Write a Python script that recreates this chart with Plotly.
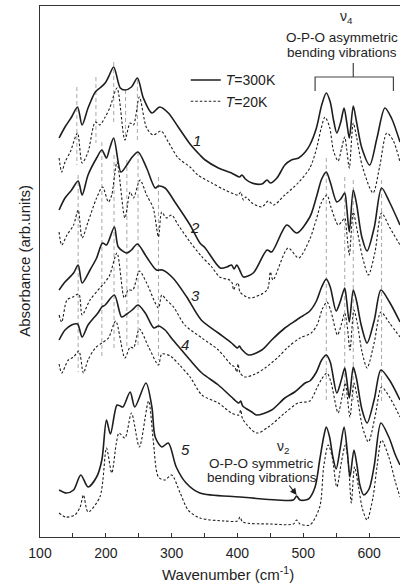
import plotly.graph_objects as go

# ---------------- data (wavenumber cm-1, absorbance arb. units, spectra offset) ----------------
c1s_wn = [129,138,148,157,164,173,184,191,199,204,212,222,229,239,248,257,270,282,295,310,328,343,351,371,391,403,407,412,422,437,445,450,460,472,482,493,503,510,520,528,535,541,546,551,557,562,566,570,576,581,589,601,612,624,634,647]
c1s_ab = [399,410,420,430,412,429,445,449,454,460,470,449,447,450,459,439,424,430,424,410,393,382,377,369,364,360,362,358,354,353,357,354,359,372,377,379,385,392,409,432,444,435,417,404,415,429,415,399,431,415,389,372,399,429,419,395]

c1d_wn = [129,133,138,146,157,164,173,184,191,199,206,217,229,237,242,251,262,272,284,295,310,328,340,361,381,401,405,409,413,422,437,447,455,472,492,510,520,527,533,540,546,553,558,563,566,570,576,581,590,606,616,627,637,647]
c1d_ab = [379,365,375,385,404,374,385,415,412,420,429,449,397,414,412,440,409,402,406,395,379,370,362,354,347,342,345,337,340,334,330,336,332,342,354,369,388,408,420,410,386,376,388,400,388,369,414,400,370,344,370,404,396,375]

c2s_wn = [129,138,148,158,164,173,186,194,201,206,212,223,232,239,249,262,275,280,290,305,328,343,351,374,384,391,395,399,404,409,424,445,452,475,490,510,520,528,535,541,551,557,563,566,570,576,581,589,597,608,619,631,647]
c2s_ab = [327,339,347,356,342,362,379,387,379,389,399,365,372,379,385,369,349,351,349,335,312,294,289,269,270,272,268,272,266,260,264,287,285,312,304,320,340,358,365,355,335,338,344,330,305,347,333,300,286,310,349,335,312]

c2d_wn = [129,133,141,151,158,164,173,186,195,204,209,217,229,237,242,252,262,272,280,285,292,300,310,328,345,361,373,388,392,394,397,401,404,419,445,450,454,477,493,510,520,528,536,542,553,558,563,566,570,576,581,590,599,609,619,631,647]
c2d_ab = [305,292,302,312,327,299,315,339,350,335,342,375,319,345,339,357,342,329,300,325,319,322,312,295,281,270,260,257,254,247,251,254,245,239,247,265,257,289,279,298,318,335,342,330,312,315,319,305,282,325,310,280,262,285,324,310,292]

c3s_wn = [129,138,151,158,164,176,186,195,201,213,219,232,239,248,262,277,286,302,323,345,371,391,400,403,406,417,437,452,472,490,494,510,520,528,535,541,550,556,563,566,570,576,581,588,597,608,618,631,647]
c3s_ab = [247,255,264,272,254,267,279,294,292,310,290,284,287,293,280,267,267,259,240,217,204,194,189,191,188,182,187,197,209,217,219,226,236,250,258,250,226,235,249,236,215,247,236,212,194,217,247,235,215]

c3d_wn = [129,133,141,150,159,164,176,191,199,206,217,228,234,241,251,262,280,285,292,303,320,346,371,391,396,399,401,404,411,427,442,462,477,495,512,521,529,536,542,552,558,563,567,571,577,582,589,597,608,618,631,647]
c3d_ab = [222,215,237,240,243,222,237,249,255,262,284,239,247,247,266,254,229,242,237,230,212,199,187,172,170,165,173,164,160,163,169,180,190,199,204,212,228,235,226,202,213,224,210,187,227,214,186,169,195,225,214,200]

c4s_wn = [129,138,148,157,164,173,188,194,199,213,224,232,240,249,260,273,280,290,302,315,328,346,371,391,402,405,408,422,429,452,472,487,503,510,520,528,535,541,551,557,563,566,570,576,581,589,597,608,618,631,647]
c4s_ab = [197,207,212,213,200,212,224,230,232,242,220,223,227,232,224,209,211,207,197,187,177,164,152,140,134,136,131,125,122,127,139,145,154,156,165,177,182,175,144,155,169,158,139,170,158,128,114,138,167,157,137]

c4d_wn = [129,133,143,151,159,166,173,184,194,204,215,229,237,242,251,265,280,285,298,312,328,346,371,391,402,405,408,429,447,472,492,510,520,528,536,542,553,559,564,567,571,577,582,590,599,609,619,631,647]
c4d_ab = [173,164,177,180,186,164,177,189,194,199,216,179,190,189,208,190,172,183,181,172,160,142,134,124,122,127,118,104,110,124,134,136,148,158,164,155,124,140,154,140,120,154,140,110,95,120,150,140,120]

c5s_wn = [129,140,151,162,173,186,194,201,207,217,222,226,237,244,261,270,275,285,295,307,322,343,404,460,485,490,495,508,518,525,531,535,540,545,550,556,562,567,571,577,582,586,592,600,608,618,630,640,647]
c5s_ab = [47,44,47,62,50,60,77,117,103,132,131,130,145,130,154,130,100,90,94,70,54,44,40,37,37,41,37,38,50,77,100,110,100,80,68,88,110,85,60,87,70,52,42,48,72,114,100,82,72]

c5d_wn = [129,139,153,161,166,173,191,201,209,216,220,229,239,251,265,272,280,290,300,313,325,343,380,400,404,408,450,485,490,495,510,525,531,538,544,551,558,564,569,573,578,584,590,597,606,612,619,630,640,647]
c5d_ab = [24,20,22,30,42,25,40,89,64,94,104,99,124,90,136,97,60,57,62,44,27,19,16,16,20,15,13,13,17,13,12,30,70,92,80,50,75,92,70,34,70,50,28,17,40,70,97,80,55,40]

# vertical guide lines (wavenumber, top, bottom)
guideA_wn = [156, 185, 212, 230, 248]
guideA_top = [450, 460, 475, 447, 457]
guideA_bot = [372, 394, 415, 397, 395]
guideB_wn = [158, 194, 212.5, 232, 249, 280]
guideB_top = [362, 395, 382, 377, 385, 360]
guideB_bot = [165, 180, 187, 190, 189, 177]
guideC_wn = [535, 563, 576, 619]
guideC_top = [379, 360, 357, 357]
guideC_bot = [137, 139, 137, 135]

# nu4 bracket
bracket_wn = [518, 576, 637]
bracket_ab = [446, 460, 474]

curve_labels = ["1", "2", "3", "4", "5"]
curve_label_wn = [338, 336, 336, 321, 321]
curve_label_ab = [397, 310, 242, 193, 88]

x_ticks = [100, 200, 300, 400, 500, 600]

FONT = "Liberation Sans, Arial, sans-serif"
BLACK = "#1e1e1e"

fig = go.Figure()

def guides(wn, top, bot):
    xs, ys = [], []
    for w, t, b in zip(wn, top, bot):
        xs += [w, w, None]
        ys += [t, b, None]
    return xs, ys

for wn, top, bot in [(guideA_wn, guideA_top, guideA_bot),
                     (guideB_wn, guideB_top, guideB_bot),
                     (guideC_wn, guideC_top, guideC_bot)]:
    gx, gy = guides(wn, top, bot)
    fig.add_trace(go.Scatter(x=gx, y=gy, mode="lines", showlegend=False, hoverinfo="skip",
                             line=dict(color="#a8a8a8", width=1, dash="4px,3px")))

spectra = [
    (c1s_wn, c1s_ab, True), (c1d_wn, c1d_ab, False),
    (c2s_wn, c2s_ab, True), (c2d_wn, c2d_ab, False),
    (c3s_wn, c3s_ab, True), (c3d_wn, c3d_ab, False),
    (c4s_wn, c4s_ab, True), (c4d_wn, c4d_ab, False),
    (c5s_wn, c5s_ab, True), (c5d_wn, c5d_ab, False),
]
for i, (wn, ab, solid) in enumerate(spectra):
    fig.add_trace(go.Scatter(
        x=wn, y=ab, mode="lines",
        name="<i>T</i>=300K" if solid else "<i>T</i>=20K",
        showlegend=(i < 2), legendgroup="s" if solid else "d",
        line=dict(color=BLACK, width=1.6 if solid else 1.1,
                  dash="solid" if solid else "2.5px,2px",
                  shape="spline", smoothing=0.8),
        hoverinfo="skip"))

bx = [bracket_wn[0], bracket_wn[0], bracket_wn[2], bracket_wn[2], None, bracket_wn[1], bracket_wn[1]]
by = [bracket_ab[0], bracket_ab[1], bracket_ab[1], bracket_ab[0], None, bracket_ab[1], bracket_ab[2]]
fig.add_trace(go.Scatter(x=bx, y=by, mode="lines", showlegend=False, hoverinfo="skip",
                         line=dict(color="#444", width=1.2)))

ann = []
for t, w, a in zip(curve_labels, curve_label_wn, curve_label_ab):
    ann.append(dict(x=w, y=a, xref="x", yref="y", text="<i>%s</i>" % t, showarrow=False,
                    font=dict(size=15, color=BLACK, family=FONT)))

ann += [
    dict(x=565, y=520, xref="x", yref="y", text="ν<sub>4</sub>", showarrow=False,
         font=dict(size=14, color=BLACK, family=FONT)),
    dict(x=559, y=500, xref="x", yref="y", text="O-P-O asymmetric", showarrow=False,
         font=dict(size=13.5, color=BLACK, family=FONT)),
    dict(x=559, y=485, xref="x", yref="y", text="bending vibrations", showarrow=False,
         font=dict(size=13.5, color=BLACK, family=FONT)),
    dict(x=469, y=90, xref="x", yref="y", text="ν<sub>2</sub>", showarrow=False,
         font=dict(size=14, color=BLACK, family=FONT)),
    dict(x=436, y=74, xref="x", yref="y", text="O-P-O symmetric", showarrow=False,
         font=dict(size=13.5, color=BLACK, family=FONT)),
    dict(x=438, y=60, xref="x", yref="y", text="bending vibrations", showarrow=False,
         font=dict(size=13.5, color=BLACK, family=FONT)),
    dict(x=490, y=42, ax=477, ay=53, xref="x", yref="y", axref="x", ayref="y", text="",
         showarrow=True, arrowhead=2, arrowsize=1.2, arrowwidth=1.1, arrowcolor=BLACK),
    dict(x=0.521, y=-0.068, xref="paper", yref="paper", text="Wavenumber (cm<sup>-1</sup>)",
         showarrow=False, xanchor="center", yanchor="middle",
         font=dict(size=15, color=BLACK, family=FONT)),
    dict(x=-0.042, y=0.52, xref="paper", yref="paper", text="Absorbance (arb.units)",
         textangle=-90, showarrow=False, xanchor="center", yanchor="middle",
         font=dict(size=15, color=BLACK, family=FONT)),
]

fig.update_layout(
    width=400, height=584,
    margin=dict(l=40, r=0, t=6, b=47),
    paper_bgcolor="white", plot_bgcolor="white",
    font=dict(family=FONT, color=BLACK),
    annotations=ann,
    showlegend=True,
    legend=dict(x=0.405, y=0.89, xanchor="left", yanchor="top", bgcolor="rgba(0,0,0,0)",
                font=dict(size=14, color=BLACK, family=FONT), tracegroupgap=0),
    xaxis=dict(range=[100, 647], tickvals=x_ticks, ticks="inside", ticklen=4, tickwidth=1,
               tickcolor="#333", showline=True, linecolor="#333", linewidth=1.2, mirror=True,
               showgrid=False, zeroline=False, tickfont=dict(size=14, color=BLACK),
               ticklabelstandoff=3,
               minor=dict(ticks="inside", ticklen=4, tickwidth=1, tickcolor="#333", dtick=50, tick0=100)),
    yaxis=dict(range=[0, 531], showticklabels=False, ticks="", showline=True, linecolor="#333",
               linewidth=1.2, showgrid=False, zeroline=False),
    hovermode=False,
)

fig.write_html("out.html", config={"displayModeBar": False},
               post_script="document.body.style.margin='0';document.body.style.overflow='hidden';")
